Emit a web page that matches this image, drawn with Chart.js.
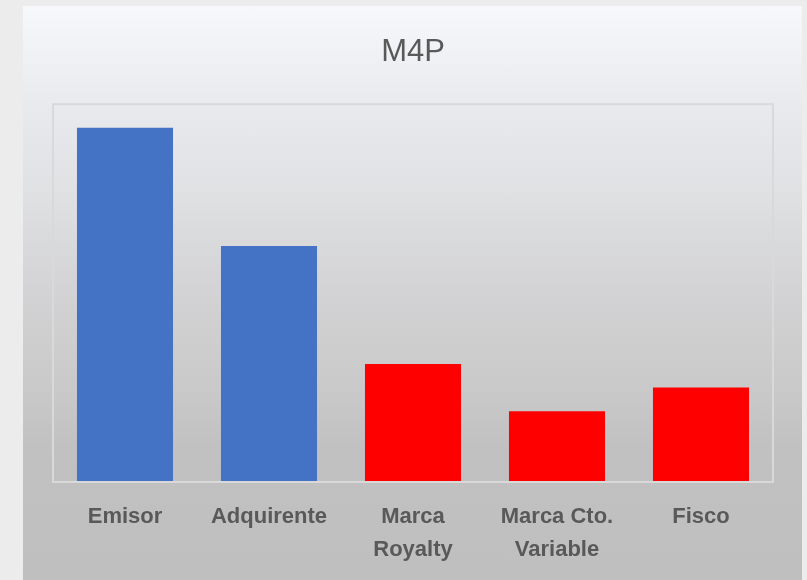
<!DOCTYPE html>
<html>
<head>
<meta charset="utf-8">
<script src="https://cdn.jsdelivr.net/npm/chart.js@4"></script>
<style>
  html, body { margin: 0; padding: 0; background: #ececec; }
  #box {
    position: absolute; left: 23px; top: 6px; width: 779px; height: 574px;
    background: linear-gradient(to bottom, #f7f8fc 0%, #e9eaee 17%, #e0e1e3 32%, #d3d3d5 49.5%, #c9c9c9 67%, #c1c1c1 77%, #bfbfbf 100%);
  }
</style>
</head>
<body>
<div id="box"><canvas id="c" width="779" height="574"></canvas></div>
<script>
var categories = [['Emisor'], ['Adquirente'], ['Marca', 'Royalty'], ['Marca Cto.', 'Variable'], ['Fisco']];
var values = [1.5, 1.0, 0.5, 0.3, 0.4];
var barColors = ['#4472c4', '#4472c4', '#ff0000', '#ff0000', '#ff0000'];

// frame round the plot area
var frame = {
    id: 'frame',
    afterDraw: function (chart) {
        var a = chart.chartArea, ctx = chart.ctx;
        ctx.save();
        ctx.strokeStyle = '#d9d9d9';
        ctx.lineWidth = 2;
        ctx.strokeRect(a.left, a.top, a.right - a.left, a.bottom - a.top);
        ctx.restore();
    }
};

new Chart(document.getElementById('c'), {
    type: 'bar',
    data: {
        labels: categories,
        datasets: [{
            label: 'M4P',
            data: values,
            backgroundColor: barColors,
            borderWidth: 0,
            categoryPercentage: 0.667,
            barPercentage: 1
        }]
    },
    options: {
        responsive: false,
        animation: false,
        layout: { padding: { left: 30, right: 29, bottom: 4 } },
        plugins: {
            legend: { display: false },
            tooltip: { enabled: false },
            title: {
                display: true,
                text: 'M4P',
                color: '#595959',
                font: { family: '"Liberation Sans", Arial, sans-serif', size: 31, weight: 'normal' },
                padding: { top: 28, bottom: 33 }
            }
        },
        scales: {
            x: {
                grid: { display: false },
                border: { display: false },
                ticks: {
                    color: '#595959',
                    maxRotation: 0,
                    padding: 10,
                    font: { family: '"Liberation Sans", Arial, sans-serif', size: 22, weight: 'bold', lineHeight: 1.5 }
                }
            },
            y: {
                display: false,
                min: 0,
                max: 1.6
            }
        }
    },
    plugins: [frame]
});
</script>
</body>
</html>
